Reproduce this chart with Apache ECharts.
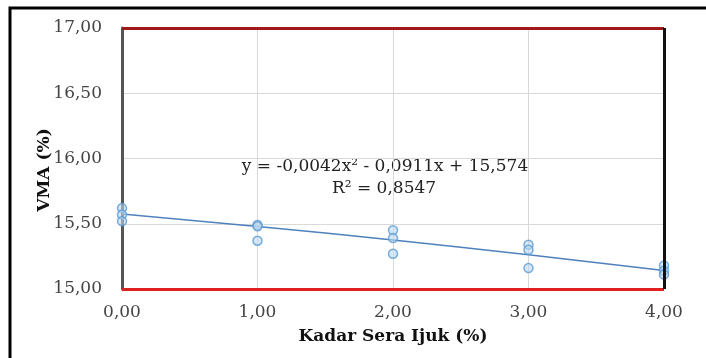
<!DOCTYPE html>
<html><head><meta charset="utf-8">
<script src="https://cdn.jsdelivr.net/npm/echarts@6/dist/echarts.min.js"></script>
<style>html,body{margin:0;padding:0;background:#fff}#c{width:706px;height:358px}</style>
</head><body><div id="c"></div>
<script>
const fiberContent = [0, 0, 0, 1, 1, 1, 2, 2, 2, 3, 3, 3, 4, 4, 4];
const vmaValues = [15.62, 15.57, 15.52, 15.49, 15.48, 15.37, 15.45, 15.39, 15.27, 15.34, 15.30, 15.16, 15.18, 15.14, 15.11];
const trendX = [0, 1, 2, 3, 4];
const trendY = [15.574, 15.479, 15.375, 15.263, 15.142];
const yTicks = [15, 15.5, 16, 16.5, 17];
const xTicks = [0, 1, 2, 3, 4];
const xTitle = 'Kadar Sera Ijuk (%)';
const yTitle = 'VMA (%)';
const equationText = 'y = -0,0042x² - 0,0911x + 15,574';
const r2Text = 'R² = 0,8547';
const upperLimit = 17;
const lowerLimit = 15;

const fmt = v => v.toFixed(2).replace('.', ',');
const font = '"DejaVu Serif", "Liberation Serif", serif';

const chart = echarts.init(document.getElementById('c'));
chart.setOption({
  animation: false,
  backgroundColor: '#fff',
  textStyle: { fontFamily: font },
  grid: { left: 122, right: 42, top: 28, bottom: 69 },
  xAxis: {
    type: 'value', min: xTicks[0], max: xTicks[xTicks.length - 1], interval: 1,
    axisLine: { show: false },
    axisTick: { show: false },
    splitLine: { show: true, lineStyle: { color: '#d9d9d9', width: 1 } },
    axisLabel: { formatter: fmt, fontFamily: font, fontSize: 17, color: '#444', margin: 15 },
    name: xTitle, nameLocation: 'middle', nameGap: 39,
    nameTextStyle: { fontFamily: font, fontSize: 17, fontWeight: 'bold', color: '#111' }
  },
  yAxis: {
    type: 'value', min: yTicks[0], max: yTicks[yTicks.length - 1], interval: 0.5,
    axisLine: { show: true, lineStyle: { color: '#555', width: 3 } },
    axisTick: { show: false },
    splitLine: { show: true, lineStyle: { color: '#d9d9d9', width: 1 } },
    axisLabel: { formatter: fmt, fontFamily: font, fontSize: 17, color: '#444', margin: 20 }
  },
  series: [
    {
      type: 'line', data: trendX.map((x, i) => [x, trendY[i]]), smooth: true,
      symbol: 'none', lineStyle: { color: '#4f81bd', width: 1.5 }, z: 3,
      markLine: {
        silent: true, symbol: 'none', label: { show: false },
        data: [
          { yAxis: upperLimit, lineStyle: { color: '#a01818', width: 3, type: 'solid' } },
          { yAxis: lowerLimit, lineStyle: { color: '#e02020', width: 3, type: 'solid' } },
          { xAxis: xTicks[xTicks.length - 1], lineStyle: { color: '#111', width: 3, type: 'solid' } }
        ]
      }
    },
    {
      type: 'scatter', data: fiberContent.map((x, i) => [x, vmaValues[i]]),
      symbol: 'circle', symbolSize: 9, z: 4,
      itemStyle: { color: 'rgba(189,215,238,0.75)', borderColor: '#5b9bd5', borderWidth: 1.5 }
    }
  ],
  graphic: [
    { type: 'rect', shape: { x: 10, y: 8, width: 700, height: 360 }, style: { fill: 'none', stroke: '#000', lineWidth: 3 }, silent: true },
    { type: 'text', x: 45, y: 170, rotation: Math.PI / 2,
      style: { text: yTitle, font: 'bold 17px ' + font, fill: '#111', align: 'center', verticalAlign: 'middle' } },
    { type: 'text', x: 385, y: 167,
      style: { text: equationText, font: '17px ' + font, fill: '#222', align: 'center', verticalAlign: 'middle' } },
    { type: 'text', x: 384, y: 189,
      style: { text: r2Text, font: '17px ' + font, fill: '#222', align: 'center', verticalAlign: 'middle' } }
  ]
});
</script>
</body></html>
